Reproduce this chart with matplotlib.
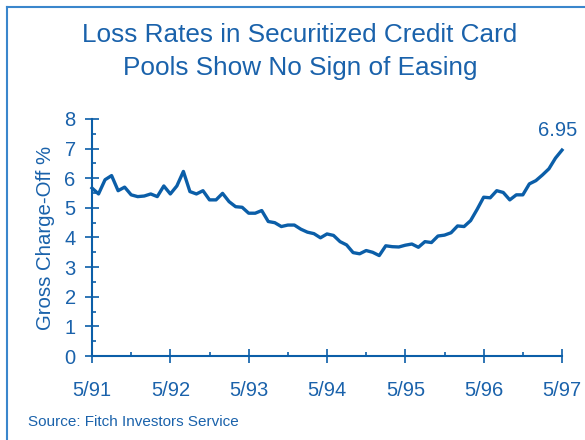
import matplotlib
matplotlib.use("Agg")
import matplotlib.pyplot as plt
from matplotlib.lines import Line2D
from matplotlib.ticker import MultipleLocator

# monthly gross charge-off rate, 5/91 .. 5/97
months = list(range(73))
charge_off = [5.67, 5.47, 5.95, 6.09, 5.58, 5.70, 5.44, 5.38, 5.40, 5.47,
              5.38, 5.74, 5.47, 5.74, 6.23, 5.55, 5.47, 5.58, 5.27, 5.27,
              5.49, 5.21, 5.04, 5.02, 4.82, 4.82, 4.91, 4.54, 4.50, 4.37,
              4.42, 4.42, 4.28, 4.18, 4.13, 3.99, 4.12, 4.07, 3.86, 3.75,
              3.49, 3.45, 3.56, 3.50, 3.39, 3.72, 3.69, 3.68, 3.74, 3.78,
              3.67, 3.86, 3.83, 4.05, 4.08, 4.16, 4.39, 4.37, 4.57, 4.95,
              5.36, 5.34, 5.58, 5.52, 5.27, 5.44, 5.44, 5.81, 5.92, 6.11,
              6.32, 6.68, 6.95]
year_ticks = [0, 12, 24, 36, 48, 60, 72]
year_labels = ["5/91", "5/92", "5/93", "5/94", "5/95", "5/96", "5/97"]

blue = "#0b5ea8"
txt = "#1a62ab"
plt.rcParams["font.family"] = ["Liberation Sans", "DejaVu Sans"]

fig = plt.figure(figsize=(5.85, 4.40), dpi=100)
ax = fig.add_axes([92 / 585, 1 - 356 / 440, (562 - 92) / 585, (356 - 119) / 440])

ax.plot(months, charge_off, color=blue, lw=2.4, clip_on=False, solid_joinstyle="round")
ax.set_xlim(0, 72)
ax.set_ylim(0, 8)

for s in ["top", "right"]:
    ax.spines[s].set_visible(False)
for s in ["left", "bottom"]:
    ax.spines[s].set_color(blue)
    ax.spines[s].set_linewidth(1.5)

ax.set_xticks(year_ticks)
ax.set_xticklabels(year_labels)
ax.xaxis.set_minor_locator(MultipleLocator(6))
ax.yaxis.set_major_locator(MultipleLocator(1))
ax.yaxis.set_minor_locator(MultipleLocator(0.5))
ax.tick_params(which="major", direction="inout", length=9.5, width=1.2, color=blue,
               labelcolor=txt, labelsize=14.5)
ax.tick_params(axis="x", which="major", pad=13)
ax.tick_params(axis="y", which="major", pad=7)
ax.tick_params(which="minor", direction="in", length=3, width=1.2, color=blue)

ax.set_ylabel("Gross Charge-Off %", color=txt, fontsize=14.7, labelpad=7)
ax.text(71.3, 6.95 + 0.35, "6.95", color=txt, fontsize=14.5, ha="center", va="bottom")

fig.text(0.513, 1 - 35 / 440, "Loss Rates in Securitized Credit Card", color=txt,
         fontsize=18.8, ha="center", va="center")
fig.text(0.513, 1 - 68 / 440, "Pools Show No Sign of Easing", color=txt,
         fontsize=18.8, ha="center", va="center")
fig.text(28 / 585, 1 - 422 / 440, "Source: Fitch Investors Service", color=txt,
         fontsize=11, ha="left", va="center")

# frame lines along top and left edge
fig.add_artist(Line2D([7 / 585, 7 / 585], [0, 1 - 7 / 440], color="#3a86cc", lw=1.5))
fig.add_artist(Line2D([7 / 585, 1], [1 - 7 / 440, 1 - 7 / 440], color="#3a86cc", lw=1.5))

fig.savefig("out.png", dpi=100)
